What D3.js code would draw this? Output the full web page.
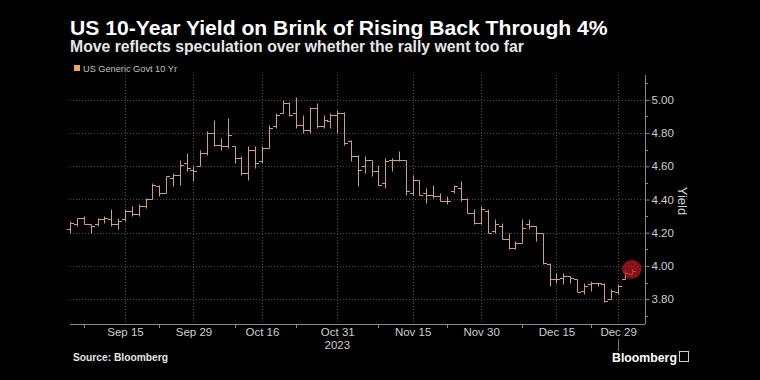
<!DOCTYPE html>
<html><head><meta charset="utf-8">
<script src="https://cdn.jsdelivr.net/npm/d3@7"></script>
<style>body{margin:0;background:#000;}svg{display:block}</style>
</head><body>
<svg id="c" width="760" height="380"></svg>
<script>
// ---------- DATA ----------
const dates = [
"2023-09-05","2023-09-06","2023-09-07","2023-09-08","2023-09-11","2023-09-12","2023-09-13","2023-09-14","2023-09-15","2023-09-18",
"2023-09-19","2023-09-20","2023-09-21","2023-09-22","2023-09-25","2023-09-26","2023-09-27","2023-09-28","2023-09-29","2023-10-02",
"2023-10-03","2023-10-04","2023-10-05","2023-10-06","2023-10-10","2023-10-11","2023-10-12","2023-10-13","2023-10-16","2023-10-17",
"2023-10-18","2023-10-19","2023-10-20","2023-10-23","2023-10-24","2023-10-25","2023-10-26","2023-10-27","2023-10-30","2023-10-31",
"2023-11-01","2023-11-02","2023-11-03","2023-11-06","2023-11-07","2023-11-08","2023-11-09","2023-11-10","2023-11-13","2023-11-14",
"2023-11-15","2023-11-16","2023-11-17","2023-11-20","2023-11-21","2023-11-22","2023-11-24","2023-11-27","2023-11-28","2023-11-29",
"2023-11-30","2023-12-01","2023-12-04","2023-12-05","2023-12-06","2023-12-07","2023-12-08","2023-12-11","2023-12-12","2023-12-13",
"2023-12-14","2023-12-15","2023-12-18","2023-12-19","2023-12-20","2023-12-21","2023-12-22","2023-12-26","2023-12-27","2023-12-28",
"2023-12-29","2024-01-02","2024-01-03"];
const opens = [
4.22,4.25,4.29,4.25,4.25,4.28,4.28,4.25,4.28,4.33,
4.31,4.36,4.40,4.48,4.44,4.53,4.55,4.62,4.58,4.60,
4.68,4.80,4.73,4.72,4.72,4.65,4.56,4.70,4.63,4.71,
4.84,4.92,4.98,4.92,4.85,4.82,4.95,4.84,4.87,4.91,
4.92,4.75,4.66,4.60,4.64,4.57,4.50,4.64,4.64,4.64,
4.44,4.52,4.44,4.43,4.42,4.39,4.45,4.47,4.40,4.32,
4.26,4.33,4.21,4.24,4.16,4.11,4.14,4.25,4.24,4.20,
4.01,3.92,3.93,3.94,3.92,3.85,3.89,3.90,3.89,3.80,
3.84,3.92,3.95];
const highs = [
4.27,4.29,4.30,4.25,4.29,4.30,4.34,4.29,4.34,4.36,
4.37,4.41,4.50,4.49,4.54,4.56,4.64,4.68,4.60,4.70,
4.81,4.88,4.77,4.89,4.72,4.66,4.72,4.72,4.72,4.85,
4.92,5.00,4.99,5.02,4.91,4.96,4.98,4.91,4.92,4.94,
4.93,4.76,4.67,4.66,4.64,4.61,4.65,4.65,4.69,4.64,
4.55,4.52,4.47,4.49,4.44,4.42,4.49,4.51,4.41,4.34,
4.36,4.34,4.28,4.26,4.20,4.15,4.28,4.28,4.24,4.20,
4.02,3.96,3.96,3.94,3.92,3.90,3.91,3.90,3.90,3.86,
3.89,3.97,3.98];
const lows = [
4.20,4.24,4.25,4.20,4.24,4.26,4.24,4.22,4.27,4.30,
4.30,4.35,4.40,4.42,4.44,4.48,4.49,4.57,4.51,4.60,
4.67,4.72,4.70,4.71,4.62,4.55,4.52,4.59,4.62,4.71,
4.83,4.92,4.90,4.83,4.80,4.80,4.83,4.83,4.83,4.80,
4.73,4.63,4.48,4.56,4.54,4.49,4.47,4.57,4.63,4.43,
4.43,4.43,4.38,4.41,4.39,4.37,4.44,4.39,4.32,4.25,
4.25,4.20,4.20,4.16,4.10,4.10,4.14,4.22,4.15,4.01,
3.88,3.90,3.89,3.90,3.84,3.83,3.85,3.88,3.78,3.80,
3.83,3.92,3.95];
const closes = [
4.26,4.29,4.25,4.24,4.28,4.29,4.25,4.27,4.33,4.31,
4.36,4.40,4.49,4.44,4.54,4.55,4.61,4.59,4.57,4.68,
4.80,4.73,4.72,4.79,4.65,4.56,4.70,4.62,4.71,4.83,
4.91,4.98,4.91,4.85,4.82,4.95,4.84,4.88,4.91,4.92,
4.74,4.66,4.58,4.64,4.57,4.49,4.63,4.64,4.64,4.45,
4.52,4.43,4.43,4.42,4.39,4.39,4.48,4.40,4.32,4.26,
4.34,4.20,4.25,4.16,4.11,4.14,4.23,4.24,4.20,4.02,
3.92,3.92,3.94,3.93,3.84,3.88,3.90,3.90,3.79,3.85,
3.88,3.96,3.97];
const xTickDates = ["2023-09-15","2023-09-29","2023-10-16","2023-10-31","2023-11-15","2023-11-30","2023-12-15","2023-12-29"];
const xMinorDates = ["2023-09-07","2023-09-22","2023-10-10","2023-10-23","2023-11-08","2023-11-22","2023-12-08","2023-12-22"];
const yTicks = [3.8,4.0,4.2,4.4,4.6,4.8,5.0];
const yMinorTicks = [3.7,3.9,4.1,4.3,4.5,4.7,4.9,5.1];
const yearLabel = "2023";
const yearLabelDate = "2023-10-31";

// ---------- LAYOUT ----------
const svg = d3.select("#c");
const W = 760, H = 380;
const plot = {l:70, r:645, t:75, b:324};
const barColor = "#c9a184";
const gridColor = "#4a4a4a";
const font = "'Liberation Sans', Arial, sans-serif";

svg.append("rect").attr("width",W).attr("height",H).attr("fill","#000");

const x = d3.scalePoint().domain(dates).range([70.2, 631.8]);
const y = d3.scaleLinear().domain([3.65, 5.15]).range([plot.b, plot.t]);

function fitText(sel, target){
  const w = sel.node().getComputedTextLength();
  const fs = parseFloat(sel.attr("font-size"));
  sel.attr("font-size", (fs*target/w).toFixed(2));
}

// Titles
const t1 = svg.append("text").attr("x",70).attr("y",35).attr("fill","#fff")
  .attr("font-family",font).attr("font-weight","bold").attr("font-size",20)
  .text("US 10-Year Yield on Brink of Rising Back Through 4%");
fitText(t1, 538);
const t2 = svg.append("text").attr("x",70).attr("y",52).attr("fill","#e6e6e6")
  .attr("font-family",font).attr("font-weight","bold").attr("font-size",14)
  .text("Move reflects speculation over whether the rally went too far");
fitText(t2, 454);

// Legend
svg.append("rect").attr("x",74).attr("y",65).attr("width",6).attr("height",6).attr("fill","#f2a55c");
const lg = svg.append("text").attr("x",83).attr("y",72).attr("fill","#c4c4c4")
  .attr("font-family",font).attr("font-size",9.5).text("US Generic Govt 10 Yr");
fitText(lg, 94);

// Grid
const g = svg.append("g");
g.selectAll("line.hg").data(yTicks).join("line")
  .attr("x1",plot.l).attr("x2",plot.r)
  .attr("y1",d=>Math.round(y(d))+0.5).attr("y2",d=>Math.round(y(d))+0.5)
  .attr("stroke",gridColor).attr("stroke-dasharray","1,2");
g.selectAll("line.vg").data(xTickDates).join("line")
  .attr("x1",d=>Math.round(x(d))+0.5).attr("x2",d=>Math.round(x(d))+0.5)
  .attr("y1",plot.t).attr("y2",plot.b)
  .attr("stroke",gridColor).attr("stroke-dasharray","1,2");

// Bottom axis
const xAxis = d3.axisBottom(x).tickValues(xTickDates).tickSize(0).tickPadding(3)
  .tickFormat(d=>d3.timeFormat("%b %-d")(d3.isoParse(d)));
const xa = svg.append("g").attr("transform",`translate(0,${plot.b+0.5})`).call(xAxis);
xa.select(".domain").remove();
xa.selectAll("text").attr("fill","#cfcfcf").attr("font-family",font).attr("font-size",11.5);
svg.append("line").attr("x1",plot.l).attr("x2",plot.r).attr("y1",plot.b+0.5).attr("y2",plot.b+0.5)
  .attr("stroke","#8a8a8a");
svg.selectAll("line.xm").data(xMinorDates).join("line")
  .attr("x1",d=>Math.round(x(d))+0.5).attr("x2",d=>Math.round(x(d))+0.5)
  .attr("y1",plot.b).attr("y2",plot.b+4).attr("stroke","#8a8a8a");
svg.append("text").attr("x",x(yearLabelDate)).attr("y",349).attr("text-anchor","middle")
  .attr("fill","#cfcfcf").attr("font-family",font).attr("font-size",11.5).text(yearLabel);
svg.append("line").attr("x1",Math.round(x("2023-12-29"))+0.5).attr("x2",Math.round(x("2023-12-29"))+0.5)
  .attr("y1",339).attr("y2",351).attr("stroke","#777");

// Right axis
const yAxis = d3.axisRight(y).tickValues(yTicks).tickSize(4).tickPadding(2).tickFormat(d3.format(".2f"));
const ya = svg.append("g").attr("transform",`translate(${plot.r+0.5},0)`).call(yAxis);
ya.select(".domain").attr("stroke","#8a8a8a").attr("d",`M0,${plot.t}V${plot.b}`);
ya.selectAll(".tick line").attr("stroke","#8a8a8a");
ya.selectAll("text").attr("fill","#cfcfcf").attr("font-family",font).attr("font-size",11.5);
svg.selectAll("line.ym").data(yMinorTicks).join("line")
  .attr("x1",plot.r).attr("x2",plot.r+3)
  .attr("y1",d=>Math.round(y(d))+0.5).attr("y2",d=>Math.round(y(d))+0.5).attr("stroke","#8a8a8a");
svg.append("text").attr("transform","translate(678,201) rotate(90)").attr("text-anchor","middle")
  .attr("fill","#cfcfcf").attr("font-family",font).attr("font-size",13).text("Yield");

// OHLC bars
const bars = dates.map((d,i)=>({d,o:opens[i],h:highs[i],l:lows[i],c:closes[i]}));
const px = v => Math.round(y(v))+0.5;
svg.append("g").selectAll("path").data(bars).join("path")
  .attr("d",b=>{
    const xx = Math.round(x(b.d))+0.5;
    return `M${xx},${px(b.h)}V${px(b.l)}M${xx-3.5},${px(b.o)}H${xx}M${xx},${px(b.c)}H${xx+3.5}`;
  })
  .attr("fill","none").attr("stroke",barColor).attr("stroke-width",1);

// highlight circle on last bar
const last = bars[bars.length-1];
svg.append("circle").attr("cx",x(last.d)).attr("cy",y(last.h)).attr("r",9.5)
  .attr("fill","rgba(190,25,35,0.72)");

// Footer
const src = svg.append("text").attr("x",73).attr("y",361).attr("fill","#e6e6e6")
  .attr("font-family",font).attr("font-weight","bold").attr("font-size",10).text("Source: Bloomberg");
fitText(src, 95);
const bb = svg.append("text").attr("x",612).attr("y",362).attr("fill","#fff")
  .attr("font-family",font).attr("font-weight","bold").attr("font-size",13).text("Bloomberg");
fitText(bb, 65);
svg.append("rect").attr("x",679.5).attr("y",351.5).attr("width",9).attr("height",10).attr("fill","none").attr("stroke","#ccc");
</script>
</body></html>
